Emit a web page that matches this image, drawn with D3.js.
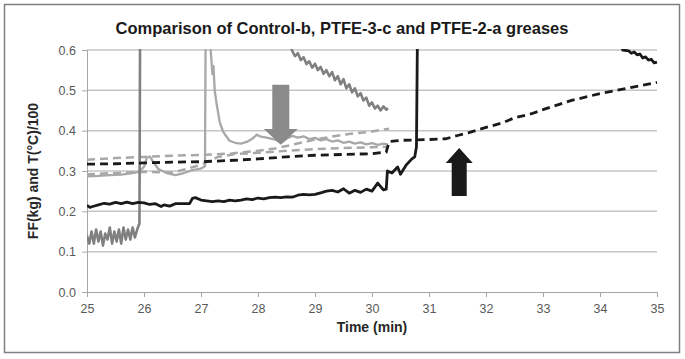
<!DOCTYPE html>
<html>
<head>
<meta charset="utf-8">
<script src="https://cdn.jsdelivr.net/npm/d3@7"></script>
<style>
  body { margin: 0; background: #fff; }
  text { font-family: "Liberation Sans", Arial, sans-serif; }
</style>
</head>
<body>
<svg id="chart" width="685" height="359"></svg>
<script>
// ---- data ----
var xTicks = [25, 26, 27, 28, 29, 30, 31, 32, 33, 34, 35];
var yTicks = [0.0, 0.1, 0.2, 0.3, 0.4, 0.5, 0.6];

// medium grey solid line (noisy low part, spike, then descending part)
var greySolid = [
  [25.0,0.14],[25.04,0.12],[25.08,0.15],[25.12,0.12],[25.16,0.155],[25.2,0.125],
  [25.24,0.15],[25.28,0.115],[25.32,0.145],[25.36,0.13],[25.4,0.16],[25.44,0.12],
  [25.48,0.15],[25.52,0.125],[25.56,0.155],[25.6,0.12],[25.64,0.16],[25.68,0.13],
  [25.72,0.155],[25.76,0.13],[25.8,0.16],[25.84,0.135],[25.88,0.155],[25.92,0.17],
  [25.94,1.0],[28.5,0.7],[28.55,0.62],[28.6,0.598],[28.65,0.585],[28.7,0.592],
  [28.75,0.575],[28.8,0.582],[28.85,0.565],[28.9,0.572],[28.95,0.556],[29.0,0.566],
  [29.05,0.55],[29.1,0.558],[29.15,0.541],[29.2,0.55],[29.25,0.535],[29.3,0.545],
  [29.35,0.525],[29.4,0.535],[29.45,0.515],[29.5,0.528],[29.55,0.505],[29.6,0.515],
  [29.65,0.495],[29.7,0.505],[29.75,0.485],[29.8,0.493],[29.85,0.475],[29.9,0.482],
  [29.95,0.462],[30.0,0.47],[30.05,0.455],[30.1,0.462],[30.15,0.45],[30.2,0.46],
  [30.25,0.452],[30.28,0.456]
];

// light grey solid line
var lightSolid = [
  [25.0,0.287],[25.2,0.288],[25.4,0.29],[25.6,0.291],[25.8,0.295],[25.9,0.298],
  [26.0,0.31],[26.05,0.333],[26.1,0.336],[26.15,0.325],[26.25,0.305],[26.4,0.295],
  [26.55,0.29],[26.7,0.295],[26.85,0.302],[27.0,0.306],[27.07,0.312],[27.09,0.9],
  [27.15,0.9],[27.17,0.6],[27.2,0.54],[27.22,0.56],[27.24,0.5],[27.27,0.47],
  [27.33,0.42],[27.39,0.397],[27.5,0.375],[27.6,0.37],[27.7,0.368],[27.8,0.372],
  [27.9,0.38],[27.98,0.39],[28.05,0.385],[28.15,0.383],[28.3,0.378],[28.4,0.37],
  [28.5,0.38],[28.6,0.387],[28.7,0.383],[28.8,0.386],[28.9,0.379],[29.0,0.382],
  [29.1,0.376],[29.2,0.379],[29.3,0.373],[29.4,0.376],[29.5,0.37],[29.6,0.373],
  [29.7,0.368],[29.8,0.371],[29.9,0.366],[30.0,0.369],[30.1,0.365],[30.2,0.368],
  [30.28,0.366]
];

// light grey dashed, upper
var lightDashedUpper = [
  [25.0,0.328],[25.5,0.332],[26.0,0.335],[26.5,0.338],[27.0,0.34],[27.5,0.343],
  [28.0,0.35],[28.3,0.356],[28.6,0.365],[29.0,0.378],[29.5,0.39],[30.0,0.398],
  [30.3,0.405]
];

// light grey dashed, lower
var lightDashedLower = [
  [25.0,0.292],[25.5,0.295],[26.0,0.298],[26.5,0.296],[27.0,0.315],[27.3,0.335],
  [27.6,0.342],[28.0,0.345],[28.5,0.35],[29.0,0.354],[29.5,0.357],[30.0,0.359],
  [30.3,0.36]
];

// black dashed
var blackDashed = [
  [25.0,0.317],[25.5,0.318],[26.0,0.32],[26.5,0.322],[27.0,0.323],[27.5,0.326],
  [28.0,0.33],[28.5,0.335],[29.0,0.339],[29.5,0.341],[30.0,0.343],[30.25,0.347],
  [30.3,0.373],[30.5,0.376],[31.0,0.378],[31.3,0.38],[31.5,0.388],[31.7,0.395],
  [32.0,0.408],[32.3,0.42],[32.5,0.432],[32.8,0.442],[33.0,0.452],[33.3,0.466],
  [33.5,0.475],[33.8,0.485],[34.0,0.492],[34.3,0.5],[34.5,0.506],[34.8,0.514],
  [35.0,0.52]
];

// black solid
var blackSolid = [
  [25.0,0.215],[25.05,0.21],[25.1,0.212],[25.2,0.216],[25.3,0.22],[25.4,0.218],
  [25.5,0.222],[25.6,0.219],[25.7,0.223],[25.8,0.219],[25.9,0.222],[26.0,0.221],
  [26.1,0.217],[26.2,0.219],[26.3,0.212],[26.35,0.216],[26.45,0.213],[26.55,0.219],
  [26.8,0.219],[26.85,0.232],[26.9,0.234],[27.0,0.228],[27.1,0.226],[27.2,0.224],
  [27.3,0.226],[27.4,0.224],[27.5,0.228],[27.6,0.226],[27.7,0.228],[27.8,0.231],
  [27.9,0.229],[28.0,0.233],[28.1,0.231],[28.2,0.234],[28.3,0.235],[28.4,0.234],
  [28.5,0.236],[28.6,0.235],[28.7,0.24],[28.8,0.242],[28.9,0.241],[29.0,0.242],
  [29.1,0.246],[29.2,0.25],[29.3,0.252],[29.4,0.248],[29.5,0.256],[29.6,0.245],
  [29.7,0.252],[29.8,0.247],[29.9,0.255],[30.0,0.25],[30.1,0.27],[30.2,0.253],
  [30.25,0.255],[30.27,0.3],[30.35,0.295],[30.45,0.31],[30.5,0.292],[30.6,0.315],
  [30.7,0.33],[30.75,0.335],[30.78,0.36],[30.82,1.0],[34.2,1.0],[34.3,0.65],
  [34.4,0.6],[34.5,0.598],[34.55,0.592],[34.6,0.595],[34.65,0.588],[34.7,0.59],
  [34.75,0.58],[34.8,0.583],[34.85,0.575],[34.9,0.577],[34.95,0.568],[35.0,0.57]
];

// arrows: [x centre, tail value, head base value, tip value]
var greyArrow = [28.4, 0.514, 0.404, 0.365];
var blackArrow = [31.53, 0.238, 0.32, 0.357];

// ---- layout ----
var svg = d3.select("#chart");
var mLeft = 87, mRight = 657, mTop = 50, mBottom = 292;

var x = d3.scaleLinear().domain([25, 35]).range([mLeft, mRight]);
var y = d3.scaleLinear().domain([0, 0.6]).range([mBottom, mTop]);

// outer frame
svg.append("rect")
    .attr("x", 4.5).attr("y", 4.5)
    .attr("width", 675).attr("height", 348)
    .attr("fill", "#fff")
    .attr("stroke", "#7f7f7f")
    .attr("stroke-width", 1.5);

svg.append("text")
    .attr("x", 342).attr("y", 34)
    .attr("text-anchor", "middle")
    .attr("font-size", 16.5)
    .attr("font-weight", "bold")
    .attr("fill", "#1a1a1a")
    .text("Comparison of Control-b, PTFE-3-c and PTFE-2-a greases");

// gridlines
svg.append("g")
    .selectAll("line")
    .data(yTicks.filter(d => d > 0))
    .enter().append("line")
    .attr("x1", mLeft).attr("x2", mRight)
    .attr("y1", d => y(d)).attr("y2", d => y(d))
    .attr("stroke", "#c6c6c6")
    .attr("stroke-width", 1.5);

// y axis
var yAxis = d3.axisLeft(y).tickValues(yTicks).tickFormat(d3.format(".1f")).tickSize(5).tickPadding(6);
var gy = svg.append("g").attr("transform", "translate(" + mLeft + ",0)").call(yAxis);
gy.select(".domain").attr("stroke", "#a6a6a6");
gy.selectAll(".tick line").attr("stroke", "#a6a6a6");
gy.selectAll("text").attr("font-size", 12.5).attr("fill", "#595959")
    .attr("font-family", "'Liberation Sans', Arial, sans-serif");

// x axis
var xAxis = d3.axisBottom(x).tickValues(xTicks).tickFormat(d3.format("d")).tickSize(5).tickPadding(7);
var gx = svg.append("g").attr("transform", "translate(0," + mBottom + ")").call(xAxis);
gx.select(".domain").attr("stroke", "#a6a6a6");
gx.selectAll(".tick line").attr("stroke", "#a6a6a6");
gx.selectAll("text").attr("font-size", 12.5).attr("fill", "#595959")
    .attr("font-family", "'Liberation Sans', Arial, sans-serif");

svg.append("text")
    .attr("x", (mLeft + mRight) / 2).attr("y", 332)
    .attr("text-anchor", "middle")
    .attr("font-size", 14).attr("font-weight", "bold")
    .attr("fill", "#262626")
    .text("Time (min)");

svg.append("text")
    .attr("transform", "translate(38," + ((mTop + mBottom) / 2) + ") rotate(-90)")
    .attr("text-anchor", "middle")
    .attr("font-size", 14).attr("font-weight", "bold")
    .attr("fill", "#262626")
    .text("FF(kg) and T(\u00b0C)/100");

// clip to plot area
svg.append("defs").append("clipPath").attr("id", "plot")
    .append("rect")
    .attr("x", mLeft).attr("y", mTop - 1)
    .attr("width", mRight - mLeft + 2).attr("height", mBottom - mTop + 1);

var line = d3.line().x(d => x(d[0])).y(d => y(d[1]));
var plot = svg.append("g").attr("clip-path", "url(#plot)");

function draw(data, color, width, dash) {
    plot.append("path")
        .datum(data)
        .attr("d", line)
        .attr("fill", "none")
        .attr("stroke", color)
        .attr("stroke-width", width)
        .attr("stroke-linejoin", "round")
        .attr("stroke-dasharray", dash || null);
}

draw(lightDashedLower, "#a8a8a8", 2.5, "8,5");
draw(lightDashedUpper, "#a8a8a8", 2.5, "8,5");
draw(lightSolid, "#a8a8a8", 2.3, null);
draw(greySolid, "#808080", 2.6, null);
draw(blackDashed, "#1a1a1a", 2.8, "8,5");
draw(blackSolid, "#1a1a1a", 2.8, null);

function arrow(a, color, down) {
    var cx = x(a[0]);
    var shaftHalf = 8.5, headHalf = 17;
    if (!down) { shaftHalf = 7.5; headHalf = 13.5; }
    var pts = [
        [cx - shaftHalf, y(a[1])], [cx + shaftHalf, y(a[1])],
        [cx + shaftHalf, y(a[2])], [cx + headHalf, y(a[2])],
        [cx, y(a[3])],
        [cx - headHalf, y(a[2])], [cx - shaftHalf, y(a[2])]
    ];
    svg.append("polygon")
        .attr("points", pts.map(p => p.join(",")).join(" "))
        .attr("fill", color);
}
arrow(greyArrow, "#8a8a8a", true);
arrow(blackArrow, "#1a1a1a", false);
</script>
</body>
</html>
